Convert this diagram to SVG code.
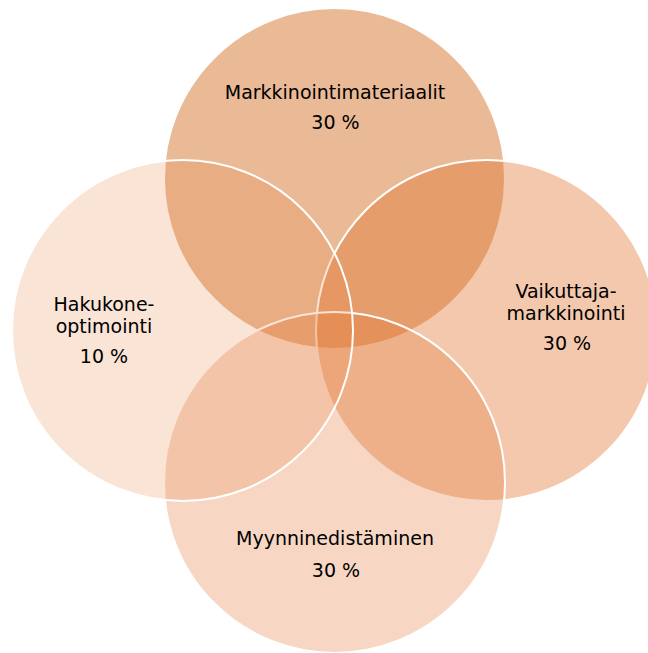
<svg xmlns="http://www.w3.org/2000/svg" width="648" height="653" viewBox="0 0 648 653">
  <style>
    .c { stroke: #ffffff; stroke-width: 2; }
    .t { font-family: "DejaVu Sans", "Liberation Sans", sans-serif; font-size: 19px; fill: #000000; text-anchor: middle; }
  </style>
  <rect width="648" height="653" fill="#ffffff"/>
  <g id="node-markkinointimateriaalit">
    <circle class="c" cx="334.5" cy="178.5" r="170.5" fill="#D67631" fill-opacity="0.51"/>
    <text class="t" x="335" y="99">Markkinointimateriaalit</text>
    <text class="t" x="335.5" y="129">30 %</text>
  </g>
  <g id="node-vaikuttajamarkkinointi">
    <circle class="c" cx="486.5" cy="330.5" r="170.5" fill="#E0702A" fill-opacity="0.385"/>
    <text class="t" x="566" y="298">Vaikuttaja-</text>
    <text class="t" x="566" y="320">markkinointi</text>
    <text class="t" x="567" y="350">30 %</text>
  </g>
  <g id="node-myynninedistaminen">
    <circle class="c" cx="334.5" cy="482.5" r="170.5" fill="#E47534" fill-opacity="0.29"/>
    <text class="t" x="335" y="545">Myynninedistäminen</text>
    <text class="t" x="336" y="577">30 %</text>
  </g>
  <g id="node-hakukoneoptimointi">
    <circle class="c" cx="182.5" cy="330.5" r="170.5" fill="#E88445" fill-opacity="0.22"/>
    <text class="t" x="104" y="311">Hakukone-</text>
    <text class="t" x="104" y="333">optimointi</text>
    <text class="t" x="104" y="363">10 %</text>
  </g>
</svg>
